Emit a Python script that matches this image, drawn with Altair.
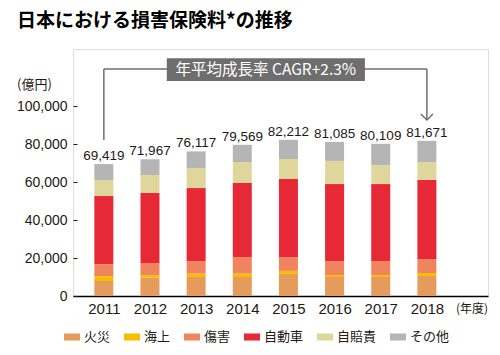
import altair as alt
import pandas as pd

years = [2011, 2012, 2013, 2014, 2015, 2016, 2017, 2018]
totals = [69419, 71967, 76117, 79569, 82212, 81085, 80109, 81671]
categories = ["火災", "海上", "傷害", "自動車", "自賠責", "その他"]
fire = [7900, 9600, 10000, 10000, 11600, 10000, 10000, 10500]
marine = [2600, 1400, 1800, 1800, 1600, 1000, 1000, 1600]
injury = [6300, 6400, 6600, 8700, 7300, 7400, 7400, 7400]
auto = [35800, 36800, 38400, 39000, 41100, 40500, 40500, 41600]
cali = [8400, 9500, 10600, 11000, 10500, 12200, 10000, 9400]
other = [8419, 8267, 8717, 9069, 10112, 9985, 11209, 11171]
colors = ["#E49B5B", "#F8BD00", "#EF845F", "#E72837", "#DFD69C", "#B5B5B5"]
y_ticks = [0, 20000, 40000, 60000, 80000, 100000]

title_text = "日本における損害保険料*の推移"
cagr_text = "年平均成長率 CAGR+2.3%"

series = [fire, marine, injury, auto, cali, other]
rows = []
for ci, (cat, vals) in enumerate(zip(categories, series)):
    for yr, v in zip(years, vals):
        rows.append({"year": yr, "cat": cat, "value": v, "order": ci})
df = pd.DataFrame(rows)
tot_df = pd.DataFrame({"year": years, "total": totals})

FONT = "Liberation Sans, Arial, sans-serif"
JP = "Noto Sans CJK JP"
TXT = "#231815"
GRAY = "#6E6E6E"

xscale = alt.Scale(domain=[2010.44, 2019.216], nice=False, zero=False)
yscale = alt.Scale(domain=[0, 130000], nice=False)

bars = alt.Chart(df).mark_bar(size=19).encode(
    x=alt.X("year:Q", scale=xscale,
            axis=alt.Axis(values=years, format="d", title=None, ticks=False,
                          grid=False, labelFontSize=15, labelFont=FONT,
                          labelColor=TXT, labelPadding=5, domainColor="#000",
                          domainWidth=1.5, labelFlush=False)),
    y=alt.Y("value:Q", scale=yscale, stack="zero",
            axis=alt.Axis(values=y_ticks, format=",.0f", title=None, grid=False,
                          domain=False, tickSize=4, tickColor=TXT, offset=-4,
                          labelFontSize=14, labelFont=FONT, labelColor=TXT,
                          labelPadding=6)),
    color=alt.Color("cat:N", scale=alt.Scale(domain=categories, range=colors),
                    legend=alt.Legend(title=None, orient="none", direction="horizontal",
                                      legendX=-9, legendY=280,
                                      symbolType="M-1,-0.44H1V0.44H-1Z",
                                      symbolSize=256, symbolStrokeWidth=0,
                                      symbolOpacity=1,
                                      labelFontSize=13, labelFont=JP, labelColor=TXT,
                                      columnPadding=13, labelOffset=4)),
    order=alt.Order("order:Q", sort="ascending"),
)

labels = alt.Chart(tot_df).mark_text(
    dy=-4, baseline="alphabetic", fontSize=13.5,
    font="Liberation Sans", color=TXT
).encode(
    x=alt.X("year:Q", scale=xscale),
    y=alt.Y("total:Q", scale=yscale),
    text=alt.Text("total:Q", format=","),
)

# annotation bracket (in data units)
seg_df = pd.DataFrame({
    "x": [2011, 2011, 2018],
    "x2": [2011, 2018, 2018],
    "y": [119500, 119500, 119500],
    "y2": [82100, 119500, 92600],
})
segs = alt.Chart(seg_df).mark_rule(color=GRAY, strokeWidth=1.5).encode(
    x=alt.X("x:Q", scale=xscale), x2="x2:Q",
    y=alt.Y("y:Q", scale=yscale), y2="y2:Q",
)
arrow = alt.Chart(pd.DataFrame({"x": [2018], "y": [92600]})).mark_point(
    shape="M-1,-1L0,0L1,-1", size=144, filled=False, color=GRAY,
    strokeWidth=1.5, opacity=1
).encode(x=alt.X("x:Q", scale=xscale), y=alt.Y("y:Q", scale=yscale))

box_df = pd.DataFrame({"x": [2012.364], "x2": [2016.657], "y": [113200], "y2": [125100]})
box = alt.Chart(box_df).mark_rect(color=GRAY).encode(
    x=alt.X("x:Q", scale=xscale), x2="x2:Q",
    y=alt.Y("y:Q", scale=yscale), y2="y2:Q",
)
box_txt = alt.Chart(pd.DataFrame({"x": [2014.51], "y": [119150], "t": [cagr_text]})).mark_text(
    color="white", fontSize=15.5, font=JP, baseline="middle", align="center"
).encode(x=alt.X("x:Q", scale=xscale), y=alt.Y("y:Q", scale=yscale), text="t:N")

title = alt.Chart(pd.DataFrame({"t": [title_text]})).mark_text(
    fontSize=19, fontWeight="bold", font=JP, color="#000", align="left",
    baseline="alphabetic"
).encode(x=alt.value(-56), y=alt.value(-22.5), text="t:N")

unit = alt.Chart(pd.DataFrame({"t": ["(億円)"]})).mark_text(
    fontSize=13, font=JP, color=TXT, align="left", baseline="alphabetic"
).encode(x=alt.value(-56), y=alt.value(40), text="t:N")

nendo = alt.Chart(pd.DataFrame({"t": ["(年度)"]})).mark_text(
    fontSize=12, font=JP, color=TXT, align="right", baseline="alphabetic"
).encode(x=alt.value(415), y=alt.value(264), text="t:N")

chart = alt.layer(bars, labels, segs, arrow, box, box_txt, title, unit, nendo).properties(
    width=415, height=247,
    autosize=alt.AutoSizeParams(type="none"),
    padding={"left": 73, "top": 49, "right": 12, "bottom": 59},
).configure_view(stroke=None).configure(background="white")

chart.save("out.html", embed_options={"renderer": "svg", "actions": False})
